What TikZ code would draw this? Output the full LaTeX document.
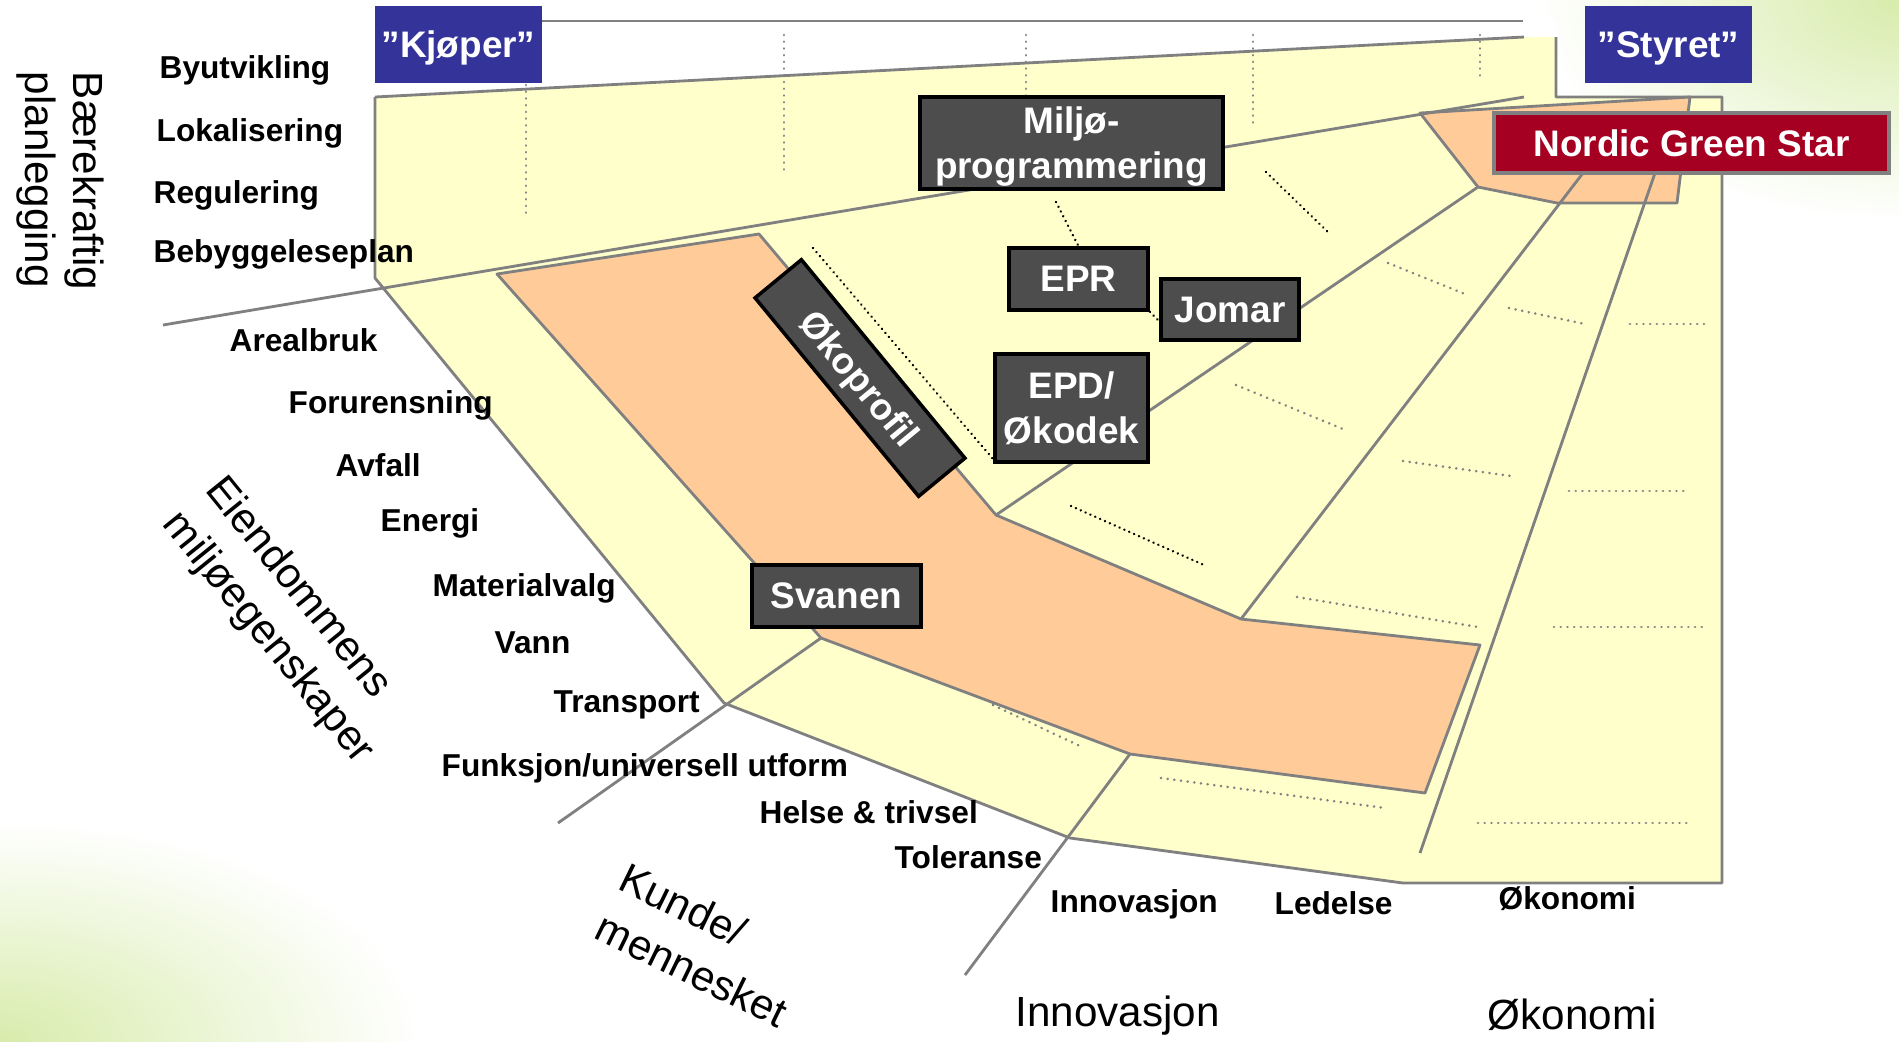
\documentclass[tikz,border=0pt]{standalone}
\usepackage{fontspec}
\setmainfont{Liberation Sans}
\definecolor{yel}{HTML}{FFFFCC}
\definecolor{ora}{HTML}{FFCC99}
\definecolor{lin}{HTML}{808080}
\definecolor{boxgray}{HTML}{4D4D4D}
\definecolor{blu}{HTML}{333399}
\definecolor{redbox}{HTML}{A50021}
\definecolor{bggreen}{RGB}{216,236,172}
\begin{document}
\begin{tikzpicture}[x=0.01cm,y=-0.01cm,
  gl/.style={draw=lin, line width=0.8pt, line join=round},
  bdot/.style={black, line width=0.75pt, dash pattern=on 0.01pt off 1.5pt, line cap=round},
  gdot/.style={lin, line width=0.8pt, dash pattern=on 0.01pt off 1.9pt, line cap=round},
  darkbox/.style={fill=boxgray, draw=black, line width=1pt, text=white, align=center, inner sep=0pt,
    text depth=0pt, font=\fontsize{10.5}{12.8}\selectfont\bfseries},
  bluebox/.style={fill=blu, text=white, inner sep=0pt, minimum width=1.67cm, minimum height=0.77cm,
    text depth=0pt, font=\fontsize{10.5}{12.8}\selectfont\bfseries},
  lbl/.style={anchor=west, inner sep=0pt, font=\fontsize{9}{10.8}\selectfont\bfseries},
  axis/.style={inner sep=0pt, font=\fontsize{12}{14}\selectfont},
  rot/.style={inner sep=0pt, align=left, font=\fontsize{12}{15.5}\selectfont}
]
\useasboundingbox (0,0) rectangle (1899,1041);
% background
\begin{scope}
\clip (0,0) rectangle (1899,1041);
\fill[white] (0,0) rectangle (1899,1041);
\shade[inner color=bggreen, outer color=white] (1899,0) ellipse (3.6cm and 2.2cm);
\shade[inner color=bggreen, outer color=white] (0,1041) ellipse (4.2cm and 2.2cm);
\end{scope}
% coordinates
\coordinate (tl) at (375,97);
\coordinate (tr) at (1524,37);
\coordinate (tr2) at (1556,37);
\coordinate (s1) at (1556,97);
\coordinate (s2) at (1722,97);
\coordinate (br) at (1722,883);
\coordinate (b1) at (1403,883);
\coordinate (b2) at (1070,838);
\coordinate (tv) at (724,703);
\coordinate (lv) at (375,278);
% top white band
\fill[white] (375,21) -- (1556,21) -- (tr2) -- (tr) -- (tl) -- cycle;
\draw[gl] (542,21) -- (1523,21);
% yellow body
\fill[yel] (tl) -- (tr) -- (tr2) -- (s1) -- (s2) -- (br) -- (b1) -- (b2) -- (tv) -- (lv) -- cycle;
\draw[gl] (tl) -- (tr);
\draw[gl] (tr2) -- (s1) -- (s2) -- (br) -- (b1) -- (b2) -- (tv) -- (lv) -- (tl);
% orange band
\coordinate (o1) at (497,274);
\coordinate (o2) at (759,234);
\coordinate (o3) at (996,515);
\coordinate (o4) at (1241,619);
\coordinate (o5) at (1480,645);
\coordinate (o6) at (1425,793);
\coordinate (o7) at (1130,754);
\coordinate (o8) at (821,638);
\filldraw[gl, fill=ora] (o1) -- (o2) -- (o3) -- (o4) -- (o5) -- (o6) -- (o7) -- (o8) -- cycle;
% orange Nordic shape
\coordinate (n1) at (1420,113);
\coordinate (n2) at (1690,97);
\coordinate (n3) at (1677,203);
\coordinate (n4) at (1557,203);
\coordinate (n5) at (1478,187);
\filldraw[gl, fill=ora] (n1) -- (n2) -- (n3) -- (n4) -- (n5) -- cycle;
% fan lines
\coordinate (bp) at (163,325);
\coordinate (bpe) at (1524,97);
\draw[gl] (bp) -- (bpe);
\coordinate (f2a) at (1583,173);
\coordinate (f3a) at (1655,173);
\coordinate (f3b) at (1420,853);
\coordinate (f4b) at (965,975);
\coordinate (f5b) at (558,823);
\draw[gl] (n5) -- (o3);
\draw[gl] (f2a) -- (o4);
\draw[gl] (f3a) -- (f3b);
\draw[gl] (o7) -- (f4b);
\draw[gl] (o8) -- (f5b);
% grey dotted guides
\draw[gdot] (526,85) -- (526,215);
\draw[gdot] (784,35) -- (784,172);
\draw[gdot] (1026,35) -- (1026,97);
\draw[gdot] (1253,35) -- (1253,123);
\draw[gdot] (1480,35) -- (1480,82);
\draw[gdot] (1388,263) -- (1465,294);
\draw[gdot] (1509,308) -- (1585,324);
\draw[gdot] (1630,324) -- (1708,324);
\draw[gdot] (1236,385) -- (1343,429);
\draw[gdot] (1403,461) -- (1511,476);
\draw[gdot] (1569,491) -- (1689,491);
\draw[gdot] (1297,597) -- (1478,627);
\draw[gdot] (1554,627) -- (1706,627);
\draw[gdot] (1161,778) -- (1385,808);
\draw[gdot] (1478,823) -- (1689,823);
\draw[gdot] (993,705) -- (1082,747);
% black dotted
\draw[bdot] (1266,172) -- (1330,234);
\draw[bdot] (813,248) -- (993,459);
\draw[bdot] (1071,506) -- (1204,565);
% boxes
\node[bluebox] (kjoper) at (458.5,44.5) {”Kjøper”};
\node[bluebox] (styret) at (1668.5,44.5) {”Styret”};
\node[darkbox, minimum width=3.03cm, minimum height=0.92cm] (miljo) at (1071.5,143) {Miljø-\\programmering};
\node[darkbox, minimum width=1.39cm, minimum height=0.62cm] (epr) at (1078.5,279) {EPR};
\node[darkbox, minimum width=1.38cm, minimum height=0.61cm] (jomar) at (1230,309.5) {Jomar};
\node[darkbox, minimum width=1.53cm, minimum height=1.08cm] (epd) at (1071.5,408) {EPD/\\Økodek};
\node[darkbox, minimum width=1.69cm, minimum height=0.62cm] (svanen) at (836.5,596) {Svanen};
\node[darkbox, rotate=-50.5, minimum width=2.57cm, minimum height=0.6cm] (okoprofil) at (860,378) {Økoprofil};
\node[fill=redbox, draw=lin, line width=1pt, text=white, inner sep=0pt, minimum width=3.95cm, minimum height=0.6cm,
  text depth=0pt, font=\fontsize{10.5}{12.8}\selectfont\bfseries] (nordic) at (1691.5,143) {Nordic Green Star};
% dotted connectors between boxes
\coordinate (md) at (1056,202);
\draw[bdot] (md) -- (epr.north);
\draw[bdot] (epr.south east) -- (1161,323);
% labels
\node[lbl] (l1) at (159,70) {Byutvikling};
\node[lbl] (l2) at (156,133) {Lokalisering};
\node[lbl] (l3) at (153,195) {Regulering};
\node[lbl] (l4) at (153,254) {Bebyggeleseplan};
\node[lbl] (l5) at (229,340) {Arealbruk};
\node[lbl] (l6) at (288,405) {Forurensning};
\node[lbl] (l7) at (335,465) {Avfall};
\node[lbl] (l8) at (380,523) {Energi};
\node[lbl] (l9) at (432,588) {Materialvalg};
\node[lbl] (l10) at (494,643) {Vann};
\node[lbl] (l11) at (553,705) {Transport};
\node[lbl] (l12) at (441,768) {Funksjon/universell utform};
\node[lbl] (l13) at (759,812) {Helse \& trivsel};
\node[lbl] (l14) at (894,857) {Toleranse};
\node[lbl] (l15) at (1050,904) {Innovasjon};
\node[lbl] (l16) at (1274,903) {Ledelse};
\node[lbl] (l17) at (1498,899) {Økonomi};
% axis titles
\node[axis, anchor=west] (ax1) at (1015,1016) {Innovasjon};
\node[axis, anchor=west] (ax2) at (1487,1015) {Økonomi};
\node[inner sep=0pt, align=left, rotate=-90, font=\fontsize{12}{13.7}\selectfont] (ax3) at (60,181) {Bærekraftig\\planlegging};
\node[rot, rotate=-51] (ax4) at (289,621) {Eiendommens\\miljøegenskaper};
\node[rot, rotate=-26] (ax5) at (704,945) {Kunde/\\mennesket};
\end{tikzpicture}
\end{document}
